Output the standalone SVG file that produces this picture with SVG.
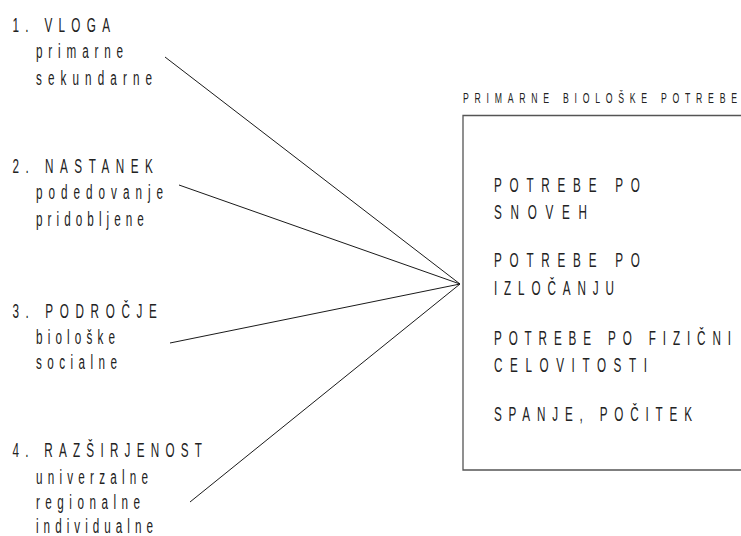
<svg xmlns="http://www.w3.org/2000/svg" width="741" height="536" viewBox="0 0 741 536">
<style>
.t{font-family:"Liberation Sans",Arial,sans-serif;font-size:19.5px;fill:#222}
.s{font-family:"Liberation Sans",Arial,sans-serif;font-size:14.5px;fill:#222}
.c{stroke:#1a1a1a;stroke-width:1;fill:none}
.box{stroke:#555;stroke-width:1.3;fill:#fff}
</style>
<rect width="741" height="536" fill="#fff"/>
<g id="connectors">
<line class="c" x1="165" y1="57" x2="460" y2="284"/>
<line class="c" x1="179" y1="185" x2="460" y2="284"/>
<line class="c" x1="170" y1="343" x2="460" y2="284"/>
<line class="c" x1="190" y1="502" x2="460" y2="284"/>
</g>
<g id="box">
<path class="box" d="M745 115.5 H463 V470 H745"/>
</g>
<g transform="scale(0.6,1)">
<g id="vloga">
<text class="t" x="20.8" y="32" textLength="162.5" lengthAdjust="spacing">1. VLOGA</text>
<text class="t" x="60" y="58" textLength="145.2" lengthAdjust="spacing">primarne</text>
<text class="t" x="60" y="85" textLength="193.4" lengthAdjust="spacing">sekundarne</text>
</g>
<g id="nastanek">
<text class="t" x="20.8" y="173" textLength="234" lengthAdjust="spacing">2. NASTANEK</text>
<text class="t" x="60" y="199" textLength="211.7" lengthAdjust="spacing">podedovanje</text>
<text class="t" x="60" y="226" textLength="179.8" lengthAdjust="spacing">pridobljene</text>
</g>
<g id="podrocje">
<text class="t" x="20.8" y="318" textLength="240.5" lengthAdjust="spacing">3. PODROČJE</text>
<text class="t" x="60" y="344" textLength="131.6" lengthAdjust="spacing">biološke</text>
<text class="t" x="60" y="369" textLength="135" lengthAdjust="spacing">socialne</text>
</g>
<g id="razsirjenost">
<text class="t" x="20.8" y="457" textLength="315.8" lengthAdjust="spacing">4. RAZŠIRJENOST</text>
<text class="t" x="60" y="484" textLength="186.7" lengthAdjust="spacing">univerzalne</text>
<text class="t" x="60" y="509" textLength="173.3" lengthAdjust="spacing">regionalne</text>
<text class="t" x="60" y="533" textLength="195" lengthAdjust="spacing">individualne</text>
</g>
<g id="potrebe">
<text class="s" x="771.7" y="103" textLength="456.6" lengthAdjust="spacing">PRIMARNE BIOLOŠKE POTREBE</text>
<text class="t" x="823.3" y="192" textLength="243.3" lengthAdjust="spacing">POTREBE PO</text>
<text class="t" x="823.3" y="219" textLength="154.9" lengthAdjust="spacing">SNOVEH</text>
<text class="t" x="823.3" y="267" textLength="243.3" lengthAdjust="spacing">POTREBE PO</text>
<text class="t" x="823.3" y="295" textLength="200" lengthAdjust="spacing">IZLOČANJU</text>
<text class="t" x="823.3" y="345" textLength="395" lengthAdjust="spacing">POTREBE PO FIZIČNI</text>
<text class="t" x="823.3" y="372" textLength="255" lengthAdjust="spacing">CELOVITOSTI</text>
<text class="t" x="823.3" y="421" textLength="330" lengthAdjust="spacing">SPANJE, POČITEK</text>
</g>
</g>
</svg>
